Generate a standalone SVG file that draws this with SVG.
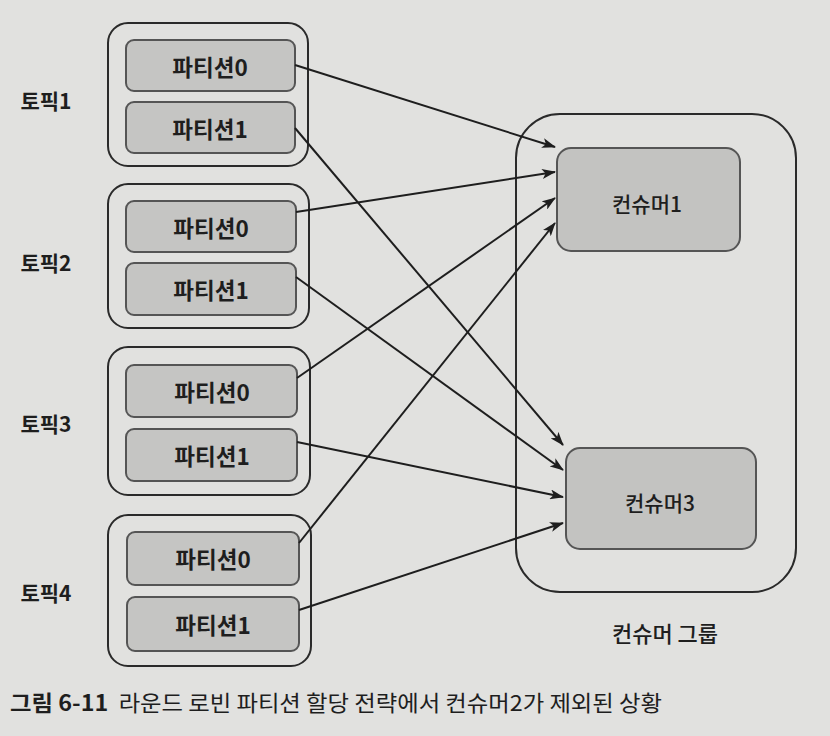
<svg xmlns="http://www.w3.org/2000/svg" width="830" height="736" viewBox="0 0 830 736">
<defs>
<style>
.bg{fill:#e1e1df}
.topic{fill:#e1e1df;stroke:#2a2a2a;stroke-width:2}
.part{fill:#c5c5c3;stroke:#555;stroke-width:2}
.cons{fill:#c3c3c1;stroke:#555;stroke-width:2}
.group{fill:none;stroke:#2a2a2a;stroke-width:2}
.t{font-family:"Noto Sans CJK KR","Noto Sans",sans-serif;fill:#1e1e1e;text-anchor:middle;dominant-baseline:central}
.pt{font-size:22.5px;font-weight:bold}
.tl{font-size:21px;font-weight:bold}
.ct{font-size:21px;font-weight:500}
.gl{font-size:22px;font-weight:500}
.cap{font-family:"Noto Sans CJK KR","Noto Sans",sans-serif;fill:#1e1e1e;font-size:22px}
.conn line{stroke:#1e1e1e;stroke-width:2;marker-end:url(#arr)}
</style>
<marker id="arr" viewBox="0 0 14 10" refX="13" refY="5" markerWidth="14" markerHeight="10" markerUnits="userSpaceOnUse" orient="auto">
<path d="M0,0 L14,5 L0,10 L3.5,5 z" fill="#1e1e1e"/>
</marker>
</defs>
<rect class="bg" x="0" y="0" width="830" height="736"/>

<g id="topic1">
<rect class="topic" x="108" y="23" width="200" height="143" rx="20"/>
<text class="t tl" x="46" y="100">토픽1</text>
</g>
<g id="topic1-p0"><rect class="part" x="126" y="40" width="169" height="51" rx="8"/><text class="t pt" x="210" y="66">파티션0</text></g>
<g id="topic1-p1"><rect class="part" x="126" y="102" width="169" height="51" rx="8"/><text class="t pt" x="210" y="128">파티션1</text></g>

<g id="topic2">
<rect class="topic" x="108" y="184" width="201" height="144" rx="20"/>
<text class="t tl" x="46" y="262">토픽2</text>
</g>
<g id="topic2-p0"><rect class="part" x="126" y="201" width="170" height="51" rx="8"/><text class="t pt" x="211" y="227">파티션0</text></g>
<g id="topic2-p1"><rect class="part" x="126" y="263" width="170" height="52" rx="8"/><text class="t pt" x="211" y="289">파티션1</text></g>

<g id="topic3">
<rect class="topic" x="108" y="347" width="202" height="148" rx="20"/>
<text class="t tl" x="46" y="423">토픽3</text>
</g>
<g id="topic3-p0"><rect class="part" x="126" y="365" width="171" height="52" rx="8"/><text class="t pt" x="212" y="391">파티션0</text></g>
<g id="topic3-p1"><rect class="part" x="126" y="429" width="171" height="52" rx="8"/><text class="t pt" x="212" y="455">파티션1</text></g>

<g id="topic4">
<rect class="topic" x="108" y="515" width="203" height="151" rx="20"/>
<text class="t tl" x="46" y="592">토픽4</text>
</g>
<g id="topic4-p0"><rect class="part" x="127" y="532" width="172" height="53" rx="8"/><text class="t pt" x="213" y="558">파티션0</text></g>
<g id="topic4-p1"><rect class="part" x="127" y="597" width="172" height="54" rx="8"/><text class="t pt" x="213" y="624">파티션1</text></g>

<g id="consumer-group">
<rect class="group" x="516" y="114" width="280" height="478" rx="44"/>
<text class="t gl" x="665" y="632">컨슈머 그룹</text>
</g>
<g id="consumer1"><rect class="cons" x="557" y="148" width="183" height="103" rx="14"/><text class="t ct" x="647" y="203">컨슈머1</text></g>
<g id="consumer3"><rect class="cons" x="566" y="448" width="190" height="101" rx="14"/><text class="t ct" x="660" y="502">컨슈머3</text></g>

<g id="connectors" class="conn">
<line x1="295" y1="65" x2="555" y2="147"/>
<line x1="295" y1="128" x2="563" y2="445"/>
<line x1="296" y1="212" x2="555" y2="172"/>
<line x1="296" y1="277" x2="563" y2="470"/>
<line x1="297" y1="378" x2="555" y2="198"/>
<line x1="297" y1="442" x2="563" y2="497"/>
<line x1="299" y1="543" x2="555" y2="223"/>
<line x1="299" y1="610" x2="563" y2="523"/>
</g>

<text class="cap" x="10" y="711" xml:space="preserve" textLength="652" lengthAdjust="spacingAndGlyphs"><tspan font-weight="bold">그림 6-11</tspan>  라운드 로빈 파티션 할당 전략에서 컨슈머2가 제외된 상황</text>
</svg>
